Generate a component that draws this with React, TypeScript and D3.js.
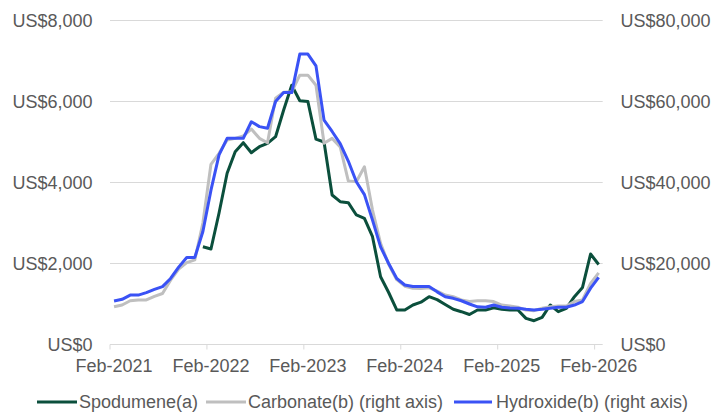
import React from "react";
import * as d3 from "d3";

const months: Date[] = d3.timeMonth.range(new Date(2021, 1, 1), new Date(2026, 2, 1));
const xTickLabels = ["Feb-2021", "Feb-2022", "Feb-2023", "Feb-2024", "Feb-2025", "Feb-2026"];
const leftTicks = [0, 2000, 4000, 6000, 8000];
const rightTicks = [0, 20000, 40000, 60000, 80000];

// US$/t, left axis (starts Jan-2022)
const spodumene: (number | null)[] = [
  null, null, null, null, null, null, null, null, null, null, null,
  2415, 2358, 3247, 4227, 4761, 4983, 4736, 4884, 4968, 5131, 5790, 6400,
  6020, 6000, 5070, 5000, 3691, 3526, 3502, 3198, 3116, 2662, 1674, 1284,
  852, 852, 975, 1045, 1180, 1108, 988, 870, 810, 740, 852, 852,
  905, 869, 852, 852, 646, 588, 671, 975, 810, 893, 1180, 1410,
  2235, 1975,
];
// US$/t, right axis
const carbonate: number[] = [
  9300, 9750, 10800, 11000, 11000, 11900, 12600, 15900, 18600, 20200, 20900,
  30000, 44500, 47200, 50500, 50900, 51500, 53200, 50900, 49800, 60800, 62300, 62400,
  66500, 66500, 64000, 49700, 50900, 48800, 40400, 40200, 43900, 33200, 25000, 19800,
  16000, 14400, 13900, 13800, 14000, 13200, 12200, 11800, 11000, 10600, 10800, 10800,
  10600, 9750, 9500, 9200, 8500, 8350, 8950, 9300, 9500, 9500, 10600, 11000,
  15100, 17700,
];
const hydroxide: number[] = [
  10740, 11160, 12200, 12200, 12800, 13600, 14300, 16300, 19100, 21500, 21500,
  27900, 38100, 46800, 50900, 50900, 50900, 55000, 53800, 53400, 60000, 62200, 62200,
  71700, 71700, 68800, 55400, 52600, 49600, 45300, 40200, 37000, 30700, 24100, 20000,
  16300, 14700, 14300, 14300, 14300, 13000, 11800, 11400, 10800, 10000, 9300, 9200,
  9750, 9200, 9000, 8950, 8700, 8500, 8700, 8950, 9200, 9200, 9750, 10600,
  13900, 16600,
];

const legendItems = [
  { name: "Spodumene(a)", color: "#0b4f3c" },
  { name: "Carbonate(b) (right axis)", color: "#bfbfbf" },
  { name: "Hydroxide(b) (right axis)", color: "#3a52f5" },
];

const W = 715;
const H = 413;
const FONT = "'Liberation Sans', Arial, sans-serif";
const TEXT = "#595959";
const GRID = "#d9d9d9";

export default function App() {
  const idx = months.map((_, i) => i);
  const x = d3.scaleBand<number>().domain(idx).range([110, 602.7]).paddingInner(0).paddingOuter(0);
  const cx = (i: number) => (x(i) as number) + x.bandwidth() / 2;
  const yL = d3.scaleLinear().domain([0, 8000]).range([344.5, 20.5]);
  const yR = d3.scaleLinear().domain([0, 80000]).range([344.5, 20.5]);

  const lineL = d3
    .line<number | null>()
    .defined((d) => d !== null)
    .x((_, i) => cx(i))
    .y((d) => yL(d as number));
  const lineR = d3
    .line<number>()
    .x((_, i) => cx(i))
    .y((d) => yR(d));

  const feb = idx.filter((i) => months[i].getMonth() === 1);
  const fmt = (v: number) => "US$" + d3.format(",")(v);

  const legendPos = [
    { x1: 37, x2: 77, tx: 79 },
    { x1: 206, x2: 246, tx: 248 },
    { x1: 454, x2: 492, tx: 496 },
  ];

  return (
    <svg
      width={W}
      height={H}
      style={{ position: "absolute", left: 0, top: 0, background: "#fff" }}
      fontFamily={FONT}
    >
      {leftTicks.slice(1).map((t) => (
        <line key={t} x1={110} x2={602.7} y1={yL(t)} y2={yL(t)} stroke={GRID} strokeWidth={1} />
      ))}
      <line x1={110} x2={602.7} y1={yL(0)} y2={yL(0)} stroke={GRID} strokeWidth={1} />
      {feb.map((i) => (
        <line key={i} x1={x(i)} x2={x(i)} y1={yL(0)} y2={yL(0) + 5} stroke={GRID} strokeWidth={1} />
      ))}
      {leftTicks.map((t) => (
        <text key={t} x={92.5} y={yL(t)} dy="0.35em" textAnchor="end" fontSize={18} fill={TEXT}>
          {fmt(t)}
        </text>
      ))}
      {rightTicks.map((t) => (
        <text key={t} x={620.5} y={yR(t)} dy="0.35em" textAnchor="start" fontSize={18} fill={TEXT}>
          {fmt(t)}
        </text>
      ))}
      {feb.map((i, k) => (
        <text key={i} x={cx(i)} y={372} textAnchor="middle" fontSize={18} fill={TEXT}>
          {xTickLabels[k]}
        </text>
      ))}
      <path d={lineL(spodumene) || ""} fill="none" stroke={legendItems[0].color} strokeWidth={3} strokeLinejoin="round" />
      <path d={lineR(carbonate) || ""} fill="none" stroke={legendItems[1].color} strokeWidth={3} strokeLinejoin="round" />
      <path d={lineR(hydroxide) || ""} fill="none" stroke={legendItems[2].color} strokeWidth={3} strokeLinejoin="round" />
      {legendItems.map((it, k) => (
        <g key={it.name}>
          <line x1={legendPos[k].x1} x2={legendPos[k].x2} y1={402} y2={402} stroke={it.color} strokeWidth={3} />
          <text x={legendPos[k].tx} y={402} dy="0.35em" fontSize={18} fill={TEXT}>
            {it.name}
          </text>
        </g>
      ))}
    </svg>
  );
}
